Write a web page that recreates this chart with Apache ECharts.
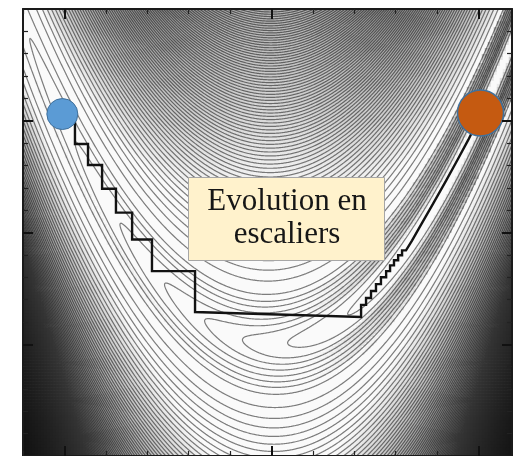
<!DOCTYPE html>
<html>
<head>
<meta charset="utf-8">
<script src="https://cdn.jsdelivr.net/npm/echarts@6/dist/echarts.min.js"></script>
<style>
  html, body { margin: 0; padding: 0; background: #ffffff; }
  #chart { width: 514px; height: 456px; }
</style>
</head>
<body>
<div id="chart"></div>
<script>
// ---- Axes ----
const xRange = [-1.2, 1.162];
const yRange = [-0.5, 1.5];
const xMajorTicks = [-1, 0, 1];
const xMinorTicks = [-1.2, -0.8, -0.6, -0.4, -0.2, 0.2, 0.4, 0.6, 0.8];
const yMajorTicks = [0, 0.5, 1];
const yMinorTicks = [-0.4, -0.3, -0.2, -0.1, 0.1, 0.2, 0.3, 0.4, 0.6, 0.7, 0.8, 0.9, 1.1, 1.2, 1.3, 1.4];

// ---- Rosenbrock function f(x, y) = (a - x)^2 + b (y - x^2)^2 ----
const rosenA = 1;
const rosenB = 100;

// ---- Contour levels: fine near the minimum, regular step further out ----
const lowLevels = [0.4, 0.85, 1.3, 1.75, 2.3, 3, 3.8, 4.7];
const levelStart = 6;
const levelStep = 3;
const levelEnd = 400;

// ---- Coordinate-descent path (staircase) ----
const pathX = [-0.949, -0.949, -0.886, -0.886, -0.818, -0.818, -0.751, -0.751, -0.673, -0.673,
  -0.577, -0.577, -0.369, -0.369, 0.433, 0.433, 0.457, 0.457, 0.481, 0.481, 0.505, 0.505,
  0.529, 0.529, 0.554, 0.554, 0.573, 0.573, 0.592, 0.592, 0.612, 0.612, 0.631, 0.631, 0.650,
  0.679, 0.718, 0.781, 0.843, 0.901, 0.950, 0.984, 1.008];
const pathY = [1.016, 0.896, 0.896, 0.802, 0.802, 0.696, 0.696, 0.589, 0.589, 0.469,
  0.469, 0.327, 0.327, 0.144, 0.122, 0.176, 0.176, 0.207, 0.207, 0.238, 0.238, 0.269,
  0.269, 0.300, 0.300, 0.327, 0.327, 0.353, 0.353, 0.376, 0.376, 0.398, 0.398, 0.420, 0.420,
  0.464, 0.527, 0.629, 0.731, 0.829, 0.913, 0.976, 1.033];

// ---- Start / end points ----
const startPoint = [-1.01, 1.03];
const endPoint = [1.01, 1.035];

// ---- Annotation ----
const boxLines = ['Evolution en', 'escaliers'];

// ---- Layout ----
const GRID = { left: 23, top: 9, width: 489, height: 450 };
const BG_NX = 163, BG_NY = 150;      // background cells
const CT_NX = 490, CT_NY = 450;      // contouring mesh

const levels = lowLevels.slice();
for (let v = levelStart; v <= levelEnd; v += levelStep) levels.push(v);

function rosen(x, y) {
  const u = rosenA - x, v = y - x * x;
  return u * u + rosenB * v * v;
}

// ---- Marching squares: contour segments in data coordinates ----
function buildContours() {
  const dx = (xRange[1] - xRange[0]) / CT_NX;
  const dy = (yRange[1] - yRange[0]) / CT_NY;
  const W = CT_NX + 1;
  const F = new Float64Array(W * (CT_NY + 1));
  for (let j = 0; j <= CT_NY; j++) {
    const y = yRange[0] + j * dy;
    for (let i = 0; i <= CT_NX; i++) F[j * W + i] = rosen(xRange[0] + i * dx, y);
  }
  const out = [];
  const nL = levels.length;
  function firstAbove(v) {
    let lo = 0, hi = nL;
    while (lo < hi) { const m = (lo + hi) >> 1; if (levels[m] <= v) lo = m + 1; else hi = m; }
    return lo;
  }
  for (let j = 0; j < CT_NY; j++) {
    const y0 = yRange[0] + j * dy;
    for (let i = 0; i < CT_NX; i++) {
      const k = j * W + i;
      const a = F[k], b = F[k + 1], c = F[k + W + 1], d = F[k + W];
      const lo = Math.min(a, b, c, d), hi = Math.max(a, b, c, d);
      const x0 = xRange[0] + i * dx;
      for (let li = firstAbove(lo); li < nL && levels[li] < hi; li++) {
        const L = levels[li];
        const cs = (a > L ? 1 : 0) | (b > L ? 2 : 0) | (c > L ? 4 : 0) | (d > L ? 8 : 0);
        const pt = (e) => {
          let t;
          switch (e) {
            case 0: t = (L - a) / (b - a); return [x0 + t * dx, y0];
            case 1: t = (L - b) / (c - b); return [x0 + dx, y0 + t * dy];
            case 2: t = (L - d) / (c - d); return [x0 + t * dx, y0 + dy];
            default: t = (L - a) / (d - a); return [x0, y0 + t * dy];
          }
        };
        const seg = (e1, e2) => {
          const p = pt(e1), q = pt(e2);
          out.push(2, p[0], p[1], q[0], q[1]);
        };
        const center = (a + b + c + d) / 4;
        switch (cs) {
          case 1: case 14: seg(3, 0); break;
          case 2: case 13: seg(0, 1); break;
          case 3: case 12: seg(3, 1); break;
          case 4: case 11: seg(1, 2); break;
          case 6: case 9: seg(0, 2); break;
          case 7: case 8: seg(3, 2); break;
          case 5:
            if (center > L) { seg(0, 1); seg(2, 3); } else { seg(3, 0); seg(1, 2); }
            break;
          case 10:
            if (center > L) { seg(3, 0); seg(1, 2); } else { seg(0, 1); seg(2, 3); }
            break;
        }
      }
    }
  }
  return out;
}

// ---- Shading: darkens where contour lines crowd closer than a few pixels ----
function spacingAt(f) {
  let k = 0;
  while (k < levels.length && levels[k] <= f) k++;
  if (k === 0) return levels[0];
  if (k >= levels.length) return levelStep;
  return levels[k] - levels[k - 1];
}
function buildShading() {
  const pxX = GRID.width / (xRange[1] - xRange[0]);
  const pxY = GRID.height / (yRange[1] - yRange[0]);
  const cw = (xRange[1] - xRange[0]) / BG_NX;
  const ch = (yRange[1] - yRange[0]) / BG_NY;
  const data = [];
  for (let j = 0; j < BG_NY; j++) {
    const y = yRange[0] + (j + 0.5) * ch;
    for (let i = 0; i < BG_NX; i++) {
      const x = xRange[0] + (i + 0.5) * cw;
      const f = rosen(x, y);
      const fx = -2 * (rosenA - x) - 4 * rosenB * x * (y - x * x);
      const fy = 2 * rosenB * (y - x * x);
      const g = Math.sqrt((fx / pxX) * (fx / pxX) + (fy / pxY) * (fy / pxY));
      const dens = g / spacingAt(f);
      const val = 250 * Math.exp(-1.4 * Math.max(0, dens - 0.2));
      data.push([i, j, Math.round(val)]);
    }
  }
  return data;
}

const contourData = buildContours();
const shadingData = buildShading();
const colCats = Array.from({ length: BG_NX }, (_, i) => i);
const rowCats = Array.from({ length: BG_NY }, (_, j) => j);
const pathData = pathX.map((x, i) => [x, pathY[i]]);

const frameLine = { show: true, onZero: false, lineStyle: { color: '#1a1a1a', width: 2 } };
const majorTick = (vals) => ({ show: true, inside: true, length: 10, customValues: vals,
  lineStyle: { color: '#111', width: 2 } });
const minorTick = (vals) => ({ show: true, inside: true, length: 5, customValues: vals,
  lineStyle: { color: '#222', width: 1.2 } });

function valueAxis(pos, tick, line) {
  const vertical = (pos === 'left' || pos === 'right');
  return {
    type: 'value', gridIndex: 0, position: pos,
    min: vertical ? yRange[0] : xRange[0],
    max: vertical ? yRange[1] : xRange[1],
    axisLine: line ? frameLine : { show: false, onZero: false },
    axisTick: tick,
    axisLabel: { show: false },
    splitLine: { show: false },
    z: 20
  };
}

const chart = echarts.init(document.getElementById('chart'), null, { renderer: 'canvas' });
chart.setOption({
  animation: false,
  backgroundColor: '#ffffff',
  grid: [
    Object.assign({}, GRID),
    Object.assign({}, GRID)
  ],
  xAxis: [
    { type: 'category', gridIndex: 1, data: colCats, show: false, boundaryGap: true },
    valueAxis('bottom', majorTick(xMajorTicks), true),
    valueAxis('top', majorTick(xMajorTicks), true),
    valueAxis('bottom', minorTick(xMinorTicks), false),
    valueAxis('top', minorTick(xMinorTicks), false)
  ],
  yAxis: [
    { type: 'category', gridIndex: 1, data: rowCats, show: false, boundaryGap: true },
    valueAxis('left', majorTick(yMajorTicks), true),
    valueAxis('right', majorTick(yMajorTicks), true),
    valueAxis('left', minorTick(yMinorTicks), false),
    valueAxis('right', minorTick(yMinorTicks), false)
  ],
  visualMap: {
    show: false, type: 'continuous', seriesIndex: 0, dimension: 2,
    min: 0, max: 255, inRange: { color: ['#000000', '#ffffff'] }
  },
  series: [
    {
      type: 'heatmap', xAxisIndex: 0, yAxisIndex: 0, data: shadingData,
      progressive: 0, progressiveThreshold: 1e9, z: 1, silent: true,
      itemStyle: { borderWidth: 0 }, emphasis: { disabled: true }
    },
    {
      type: 'lines', coordinateSystem: 'cartesian2d', xAxisIndex: 1, yAxisIndex: 1,
      data: contourData, large: true, largeThreshold: 10,
      progressive: 0, progressiveThreshold: 1e9, z: 2, silent: true,
      lineStyle: { color: 'rgba(0,0,0,0.5)', width: 1.2, cap: 'round', opacity: 1 }
    },
    {
      type: 'line', xAxisIndex: 1, yAxisIndex: 1, data: pathData, z: 3,
      showSymbol: false, silent: true,
      lineStyle: { color: '#121212', width: 2.4, join: 'miter' }
    },
    {
      type: 'scatter', xAxisIndex: 1, yAxisIndex: 1, z: 4, silent: true,
      data: [
        { value: startPoint, symbolSize: 31,
          itemStyle: { color: '#5B9BD5', borderColor: '#41719C', borderWidth: 1, opacity: 1 } },
        { value: endPoint, symbolSize: 46,
          itemStyle: { color: '#C55A11', borderColor: '#41719C', borderWidth: 1.5, opacity: 1 } }
      ]
    }
  ],
  graphic: [
    { type: 'rect', z: 100, shape: { x: 188.5, y: 177.5, width: 196, height: 83 },
      style: { fill: '#FFF2CC', stroke: '#A6A6A6', lineWidth: 1 } },
    { type: 'text', z: 101, x: 287, y: 202,
      style: { text: boxLines[0], font: '31px "Liberation Serif"', fill: '#161616',
        align: 'center', verticalAlign: 'middle' } },
    { type: 'text', z: 101, x: 287, y: 235,
      style: { text: boxLines[1], font: '31px "Liberation Serif"', fill: '#161616',
        align: 'center', verticalAlign: 'middle' } }
  ]
});
</script>
</body>
</html>
